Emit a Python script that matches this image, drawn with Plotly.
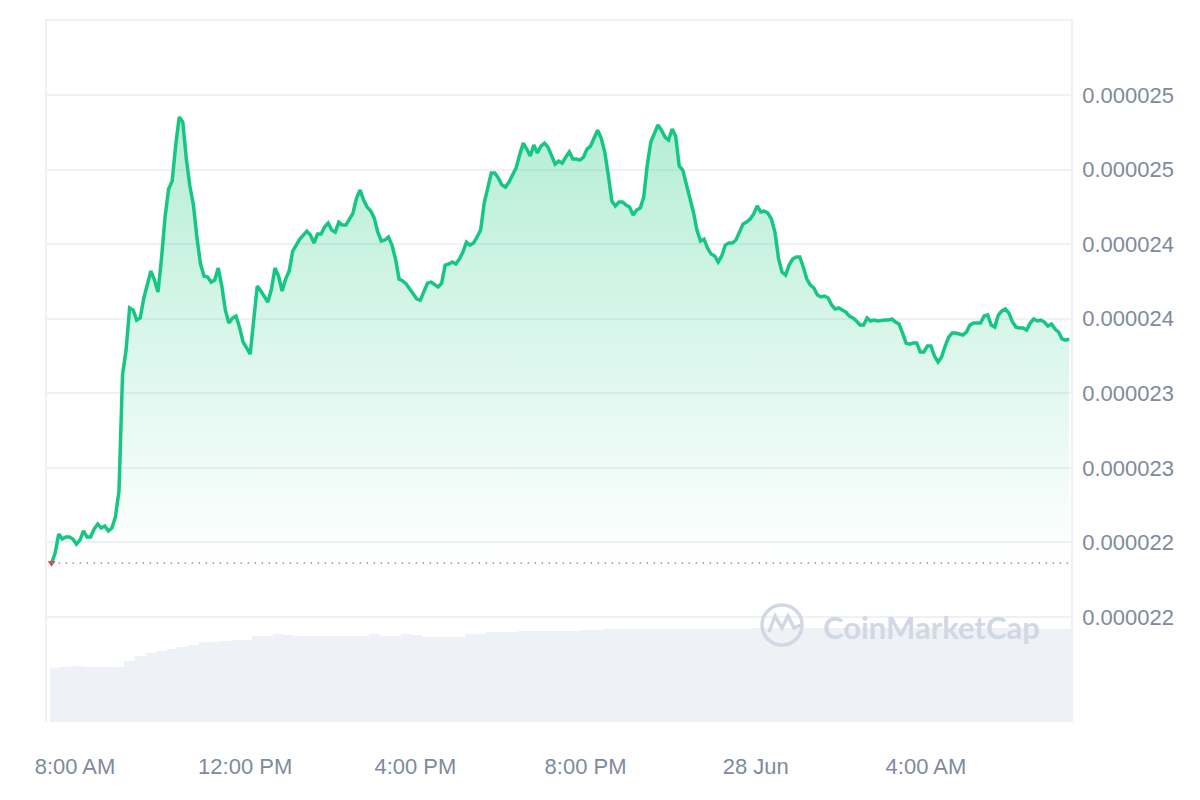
import pandas as pd
import plotly.graph_objects as go

# ---------------- data ----------------
START = "2024-06-27 07:27"          # first 5-minute price sample
VOL_START = "2024-06-27 07:32"      # centre of first 15-minute volume bar

# price in units of 1e-8 USD, 5-minute samples
PRICE_E8 = [
    2236.2, 2242.9, 2255.7, 2252.3, 2253.6, 2253.6, 2252.3, 2248.9, 2251.6, 2257.7,
    2253.6, 2253.6, 2259.0, 2262.4, 2259.7, 2261.0, 2257.7, 2259.7, 2267.1, 2284.5,
    2362.3, 2379.0, 2407.2, 2405.8, 2399.1, 2400.5, 2413.9, 2422.6, 2432.0, 2426.0,
    2417.9, 2440.7, 2468.2, 2487.0, 2492.3, 2516.5, 2535.3, 2531.9, 2507.1, 2489.0,
    2476.2, 2454.1, 2436.7, 2428.6, 2428.0, 2424.6, 2426.0, 2434.0, 2421.9, 2405.8,
    2397.1, 2400.5, 2401.8, 2394.4, 2384.4, 2380.4, 2376.3, 2399.1, 2421.9, 2418.6,
    2414.6, 2411.2, 2419.9, 2434.0, 2428.6, 2418.6, 2426.6, 2432.0, 2445.4, 2449.4,
    2453.4, 2456.1, 2458.8, 2456.1, 2450.8, 2456.8, 2456.8, 2461.5, 2464.2, 2459.5,
    2458.1, 2464.8, 2462.8, 2462.8, 2466.9, 2470.9, 2480.9, 2486.3, 2479.6, 2474.9,
    2472.2, 2467.5, 2458.1, 2452.1, 2452.8, 2454.8, 2449.4, 2440.0, 2426.6, 2425.3,
    2423.3, 2419.9, 2416.6, 2413.2, 2412.5, 2417.9, 2423.9, 2424.6, 2422.6, 2421.3,
    2423.9, 2436.0, 2436.7, 2438.0, 2436.7, 2440.0, 2444.7, 2451.4, 2449.4, 2450.8,
    2454.8, 2459.5, 2477.6, 2489.0, 2497.7, 2497.7, 2494.3, 2489.7, 2488.3, 2491.7,
    2497.0, 2501.1, 2509.8, 2517.8, 2513.8, 2509.1, 2516.5, 2511.1, 2515.8, 2517.8,
    2515.1, 2509.8, 2503.7, 2505.7, 2504.4, 2508.4, 2511.8, 2507.1, 2507.1, 2506.4,
    2508.4, 2513.8, 2515.8, 2521.2, 2526.5, 2521.2, 2511.8, 2496.4, 2478.9, 2475.6,
    2478.3, 2478.3, 2476.2, 2474.9, 2469.5, 2472.9, 2474.2, 2481.6, 2503.1, 2518.5,
    2524.5, 2529.9, 2526.5, 2521.8, 2519.8, 2527.2, 2522.5, 2502.4, 2499.7, 2491.0,
    2481.6, 2471.6, 2459.5, 2452.1, 2453.4, 2447.4, 2443.4, 2442.1, 2438.0, 2442.1,
    2449.4, 2450.8, 2450.8, 2452.8, 2458.1, 2463.5, 2464.8, 2466.9, 2470.2, 2475.6,
    2471.6, 2472.2, 2470.9, 2466.9, 2458.1, 2440.7, 2431.3, 2429.3, 2436.0, 2440.0,
    2441.4, 2441.4, 2434.7, 2426.6, 2422.6, 2420.6, 2415.9, 2414.6, 2415.2, 2413.9,
    2409.2, 2406.5, 2407.2, 2405.8, 2404.5, 2401.8, 2400.5, 2398.5, 2395.8, 2395.8,
    2400.5, 2398.5, 2399.1, 2398.5, 2399.1, 2399.1, 2399.1, 2399.8, 2397.8, 2396.5,
    2390.4, 2383.7, 2383.0, 2383.7, 2383.7, 2377.7, 2377.7, 2381.7, 2381.7, 2375.0,
    2371.0, 2374.3, 2381.7, 2387.7, 2390.4, 2390.4, 2389.8, 2389.1, 2391.1, 2395.8,
    2397.1, 2397.1, 2397.1, 2401.8, 2402.5, 2395.8, 2394.4, 2402.5, 2405.2, 2406.5,
    2403.8, 2397.8, 2394.4, 2393.8, 2393.8, 2392.4, 2397.1, 2399.8, 2398.5, 2399.1,
    2397.8, 2395.1, 2396.5, 2393.1, 2391.1, 2386.4, 2385.7, 2386.4,
]

# volume (relative units), 15-minute bars
VOLUME = [
    54, 55, 56, 55, 55, 55, 55,
    61, 66, 69, 71, 73, 75, 77, 80, 80, 81, 82, 82,
    86, 86, 88, 87, 86,
    86, 86, 86, 86, 86, 86,
    88, 86, 86, 88, 87, 85, 85, 85, 85,
    88, 88, 90, 90, 90,
    91, 91, 91, 91, 91, 91,
    92, 92,
    93, 93, 93, 93, 93, 93, 93, 93, 93, 93, 93, 93, 93, 93,
    94, 94, 94, 94, 94, 94, 94, 94, 94, 94, 94, 94, 94, 94, 94,
    94, 94, 94, 94, 94, 94, 94, 94, 94, 94, 94, 94, 93, 93, 93,
]

X_TICK_TIMES = ["2024-06-27 08:00", "2024-06-27 12:00", "2024-06-27 16:00",
                "2024-06-27 20:00", "2024-06-28 00:00", "2024-06-28 04:00"]
X_TICK_TEXT = ["8:00 AM", "12:00 PM", "4:00 PM", "8:00 PM", "28 Jun", "4:00 AM"]

Y_TICK_VALS = [2.20e-5, 2.25e-5, 2.30e-5, 2.35e-5, 2.40e-5, 2.45e-5, 2.50e-5, 2.55e-5, 2.60e-5]
Y_TICK_TEXT = ["0.000022", "0.000022", "0.000023", "0.000023", "0.000024",
               "0.000024", "0.000025", "0.000025", ""]

X_RANGE = ["2024-06-27 07:20:30", "2024-06-28 07:24:30"]
Y_RANGE = [2.1296e-5, 2.6010e-5]

# ---------------- build ----------------
times = pd.date_range(START, periods=len(PRICE_E8), freq="5min")
price = [v * 1e-8 for v in PRICE_E8]
vol_times = pd.date_range(VOL_START, periods=len(VOLUME), freq="15min")

GREEN = "#16c784"
GRID = "#eff2f5"
LABEL = "#808a9d"
FONT = "Liberation Sans, Arial, sans-serif"

fig = go.Figure()

fig.add_trace(go.Bar(
    x=vol_times, y=VOLUME, yaxis="y2",
    marker=dict(color="#eef1f5", line=dict(width=0)),
    width=15 * 60 * 1000,
    hoverinfo="skip",
))

fig.add_trace(go.Scatter(
    x=times, y=price, mode="lines",
    line=dict(color=GREEN, width=3.5),
    fill="tozeroy",
    fillgradient=dict(
        type="vertical",
        start=price[0], stop=max(price),
        colorscale=[[0, "rgba(22,199,132,0)"], [1, "rgba(22,199,132,0.32)"]],
    ),
    hoverinfo="skip",
))

fig.add_trace(go.Scatter(
    x=[times[0]], y=[price[0]], mode="markers",
    marker=dict(symbol="triangle-down", size=7, color="#ea3943"),
    hoverinfo="skip",
))

# opening-price dotted reference line
fig.add_shape(type="line", xref="x", yref="y",
              x0=times[0], x1=X_RANGE[1], y0=price[0], y1=price[0],
              line=dict(color="#8a93a6", width=1.5, dash="1.5px,5.5px"))

# watermark logo
def px_x(v):
    return (v - 47) / 1024

def px_y(v):
    return (722 - v) / 703

WM = "#d2d8e3"
fig.add_shape(type="circle", xref="paper", yref="paper",
              x0=px_x(762), x1=px_x(802), y0=px_y(645), y1=px_y(605),
              line=dict(color=WM, width=3.5))
fig.add_shape(type="path", xref="paper", yref="paper",
              path=(f"M {px_x(769)},{px_y(632)} L {px_x(775)},{px_y(616)} "
                    f"L {px_x(782)},{px_y(628)} L {px_x(788)},{px_y(616)} "
                    f"L {px_x(794)},{px_y(628)} L {px_x(801)},{px_y(625)}"),
              line=dict(color=WM, width=3.5))
fig.add_annotation(x=px_x(931), y=px_y(627), xref="paper", yref="paper",
                   xanchor="center", yanchor="middle",
                   text="CoinMarketCap", showarrow=False,
                   font=dict(family="Lato, Inter, sans-serif", size=31, color=WM,
                             weight="bold"))

fig.update_layout(
    width=1200, height=800,
    margin=dict(l=47, r=129, t=19, b=78),
    paper_bgcolor="white", plot_bgcolor="white",
    showlegend=False, hovermode=False,
    bargap=0,
    xaxis=dict(
        type="date", range=X_RANGE,
        tickvals=X_TICK_TIMES, ticktext=X_TICK_TEXT,
        showgrid=False, zeroline=False, showline=False,
        ticks="outside", ticklen=25, tickcolor="rgba(0,0,0,0)",
        tickfont=dict(family=FONT, size=22, color=LABEL),
    ),
    yaxis=dict(
        side="right", range=Y_RANGE,
        tickvals=Y_TICK_VALS, ticktext=Y_TICK_TEXT,
        showgrid=True, gridcolor=GRID, gridwidth=1.5,
        zeroline=False,
        showline=True, mirror=True, linecolor=GRID, linewidth=1.5,
        ticks="outside", ticklen=5, tickcolor="rgba(0,0,0,0)",
        tickfont=dict(family=FONT, size=22, color=LABEL),
    ),
    yaxis2=dict(overlaying="y", range=[0, 703], visible=False),
)

fig.write_html("out.html")
